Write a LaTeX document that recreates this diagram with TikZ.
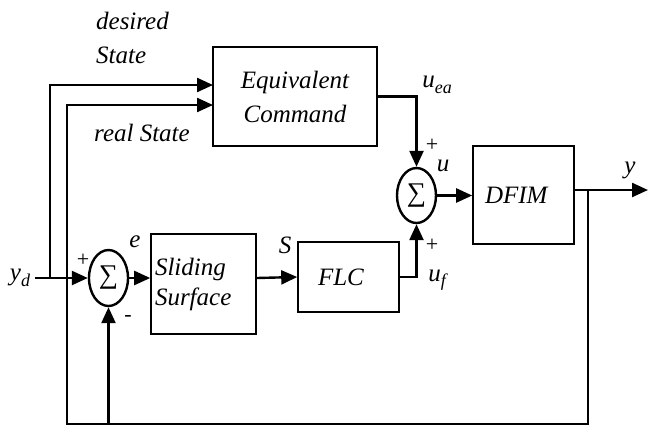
\documentclass[tikz,border=0pt]{standalone}
\usepackage{fontspec}
\setmainfont{Liberation Serif}[ItalicFont={Liberation Serif Italic}]
\usetikzlibrary{arrows.meta,shapes.geometric}

\newcommand{\bigfont}{\fontsize{25}{30}\selectfont}
\newcommand{\lsub}[2]{\textit{#1}\raisebox{-0.22em}{\fontsize{18}{18}\selectfont\textit{#2}}}

\tikzset{
  blk/.style={draw, line width=1.6pt, inner sep=0pt, font=\bigfont\itshape},
  sumnode/.style={draw, ellipse, line width=2.4pt, minimum width=39pt,
    minimum height=56pt, inner sep=0pt, font=\fontsize{27}{27}\selectfont},
  sig/.style={line width=2.4pt, -{Triangle[length=16pt,width=14pt]}},
  lbl/.style={inner sep=0pt, font=\bigfont\itshape},
  sgn/.style={inner sep=0pt, font=\fontsize{22}{22}\selectfont},
}

\begin{document}
\begin{tikzpicture}[x=1pt,y=-1pt]
        \useasboundingbox (0,0) rectangle (648,426);
        % blocks
        \node[blk, minimum width=164pt, minimum height=99pt, align=center] at (295,96.5) (eqc) {Equivalent\\[4pt]Command};
        \node[blk, minimum width=105pt, minimum height=100pt, text width=97pt, inner xsep=4pt, align=left] at (203.5,284) (sld) {Sliding\\Surface};
        \node[blk, minimum width=101pt, minimum height=70pt, text width=61pt, inner xsep=20pt, align=left] at (348.5,277) (flc) {FLC};
        \node[blk, minimum width=101pt, minimum height=98pt, text width=77pt, inner xsep=12pt, align=left] at (523.5,195) (dfim) {DFIM};
        \node[sumnode] at (108.5,278) (s1) {∑};
        \node[sumnode, minimum height=55pt] at (416.5,195.5) (s2) {∑};
        % free ends and corners
        \coordinate (yd) at (35,278);
        \coordinate (dsB) at (50,278);
        \coordinate (dsIn) at (213,85);
        \coordinate (rsIn) at (213,105);
        \coordinate (yout) at (648,190);
        \coordinate (br) at (588,190);
        \coordinate (fbL) at (67,424);
        % signals
        \draw[sig] (yd) -- (s1.west);
        \draw[sig] (dsB) |- (dsIn);
        \draw[sig] (s1.east) -- (sld.west |- s1);
        \draw[sig] (sld.east |- s1) -- (flc.west);
        \draw[sig] (eqc.east) -| (s2.north);
        \draw[sig] (flc.east) -| (s2.south);
        \draw[sig] (s2.east) -- (dfim.west |- s2);
        \draw[sig] (dfim.east |- yout) -- (yout);
        \draw[sig] (br) |- (fbL) |- (rsIn);
        \draw[sig] (s1 |- fbL) -- (s1.south);
        % labels
        \node[lbl, align=left] at (132.5,37.5) (des) {desired\\[4pt]State};
        \node[lbl] at (142,133) (real) {real State};
        \node[lbl] at (20,278) (ydl) {\lsub{y}{d}};
        \node[sgn] at (83,260) (p1) {+};
        \node[lbl] at (135,242) (el) {e};
        \node[sgn] at (128,318) (m1) {-};
        \node[lbl] at (285,245) (sl) {S};
        \node[lbl] at (437,85) (uea) {\lsub{u}{ea}};
        \node[sgn] at (432,145) (p2) {+};
        \node[lbl] at (443,166) (ul) {u};
        \node[sgn] at (432,245) (p3) {+};
        \node[lbl] at (437,280) (uf) {\lsub{u}{f}};
        \node[lbl] at (630,170) (yl) {y};
      \end{tikzpicture}
\end{document}
